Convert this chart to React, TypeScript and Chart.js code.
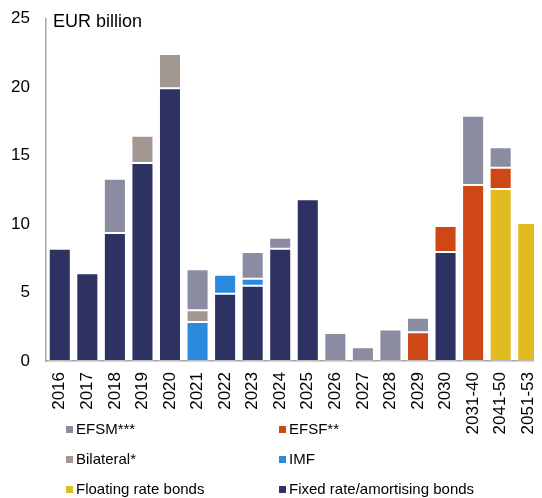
import React, { useEffect, useRef } from "react";
import { Chart, registerables } from "chart.js";

Chart.register(...registerables);

const categories = [
  "2016", "2017", "2018", "2019", "2020", "2021", "2022", "2023", "2024", "2025",
  "2026", "2027", "2028", "2029", "2030", "2031-40", "2041-50", "2051-53",
];

const fixedRate = [8.2, 6.4, 9.35, 14.45, 19.9, null, 4.9, 5.5, 8.2, 11.8, null, null, null, null, 7.95, null, null, null];
const floatingRate = [null, null, null, null, null, null, null, null, null, null, null, null, null, null, null, null, 12.55, 10.07];
const imf = [null, null, null, -0.1, null, 2.85, 1.4, 0.5, null, null, null, null, null, null, null, null, null, null];
const bilateral = [-0.1, -0.1, null, 2.0, 2.5, 0.85, null, null, null, null, null, null, null, null, null, null, null, null];
const efsf = [null, null, null, null, null, null, null, null, null, null, null, null, null, 2.1, 1.9, 12.85, 1.55, null];
const efsm = [null, null, 3.95, null, null, 3.0, null, 1.95, 0.8, null, 2.05, 1.0, 2.3, 1.05, null, 5.05, 1.5, null];

const yTicks = [0, 5, 10, 15, 20, 25];

const COLORS = {
  fixed: "#2e3263",
  floating: "#e2bb21",
  imf: "#2a8ade",
  bilateral: "#a39891",
  efsf: "#cf4714",
  efsm: "#8b8ba1",
};

const legendItems = [
  { label: "EFSM***", color: COLORS.efsm, col: 0, row: 0 },
  { label: "EFSF**", color: COLORS.efsf, col: 1, row: 0 },
  { label: "Bilateral*", color: COLORS.bilateral, col: 0, row: 1 },
  { label: "IMF", color: COLORS.imf, col: 1, row: 1 },
  { label: "Floating rate bonds", color: COLORS.floating, col: 0, row: 2 },
  { label: "Fixed rate/amortising bonds", color: COLORS.fixed, col: 1, row: 2 },
];

const FONT = "'Liberation Sans', Arial, sans-serif";
const W = 534;
const H = 490;

export default function App() {
  const ref = useRef<HTMLCanvasElement | null>(null);

  useEffect(() => {
    document.documentElement.style.overflow = "hidden";
    document.body.style.overflow = "hidden";
    if (!ref.current) return;
    const mk = (label: string, data: (number | null)[], color: string) => ({
      label,
      data,
      backgroundColor: color,
      borderColor: "rgba(255,255,255,0.25)",
      borderWidth: 1,
      borderSkipped: false as const,
      barPercentage: 0.8,
      categoryPercentage: 1,
    });
    const chart = new Chart(ref.current, {
      type: "bar",
      data: {
        labels: categories,
        datasets: [
          mk("Fixed rate/amortising bonds", fixedRate, COLORS.fixed),
          mk("Floating rate bonds", floatingRate, COLORS.floating),
          mk("IMF", imf, COLORS.imf),
          mk("Bilateral*", bilateral, COLORS.bilateral),
          mk("EFSF**", efsf, COLORS.efsf),
          mk("EFSM***", efsm, COLORS.efsm),
        ],
      },
      options: {
        animation: false,
        responsive: false,
        maintainAspectRatio: false,
        layout: { padding: { top: 0, left: 0, bottom: 0, right: -4 } },
        plugins: {
          legend: { display: false },
          tooltip: { enabled: false },
        },
        scales: {
          x: {
            stacked: true,
            grid: { display: false, drawTicks: false },
            border: { display: true, color: "#a6a6a6", width: 1.5 },
            ticks: {
              autoSkip: false,
              maxRotation: 90,
              minRotation: 90,
              padding: 11,
              color: "#000",
              font: { family: FONT, size: 17 },
            },
            afterFit: (s: any) => {
              s.height = 137;
              s.paddingLeft = 0;
              s.paddingRight = 0;
            },
          },
          y: {
            stacked: true,
            min: 0,
            max: 25,
            afterBuildTicks: (s: any) => {
              s.ticks = yTicks.map((v) => ({ value: v }));
            },
            grid: { display: false, drawTicks: false },
            border: { display: true, color: "#a6a6a6", width: 1.5 },
            ticks: {
              padding: 16,
              color: "#000",
              font: { family: FONT, size: 17 },
            },
            afterFit: (s: any) => {
              s.width = 38;
              s.paddingTop = 10.5;
              s.paddingBottom = 0;
            },
          },
        },
      },
    });
    return () => chart.destroy();
  }, []);

  return (
    <div style={{ position: "relative", width: W, height: H, fontFamily: FONT }}>
      <canvas ref={ref} width={W} height={H} style={{ display: "block", width: W, height: H }} />
      <div
        style={{
          position: "absolute",
          left: 45,
          top: 2,
          fontSize: 18,
          lineHeight: "22px",
          color: "#000",
        }}
      >
        EUR billion
      </div>
      {legendItems.map((it) => (
        <div
          key={it.label}
          style={{
            position: "absolute",
            left: it.col === 0 ? 58 : 271,
            top: 413 + it.row * 30,
            height: 16,
            display: "flex",
            alignItems: "center",
            fontSize: 15,
            lineHeight: "16px",
            color: "#000",
            whiteSpace: "nowrap",
          }}
        >
          <span
            style={{
              display: "inline-block",
              width: 7,
              height: 7,
              background: it.color,
              marginRight: 3,
            }}
          />
          <span>{it.label}</span>
        </div>
      ))}
    </div>
  );
}
